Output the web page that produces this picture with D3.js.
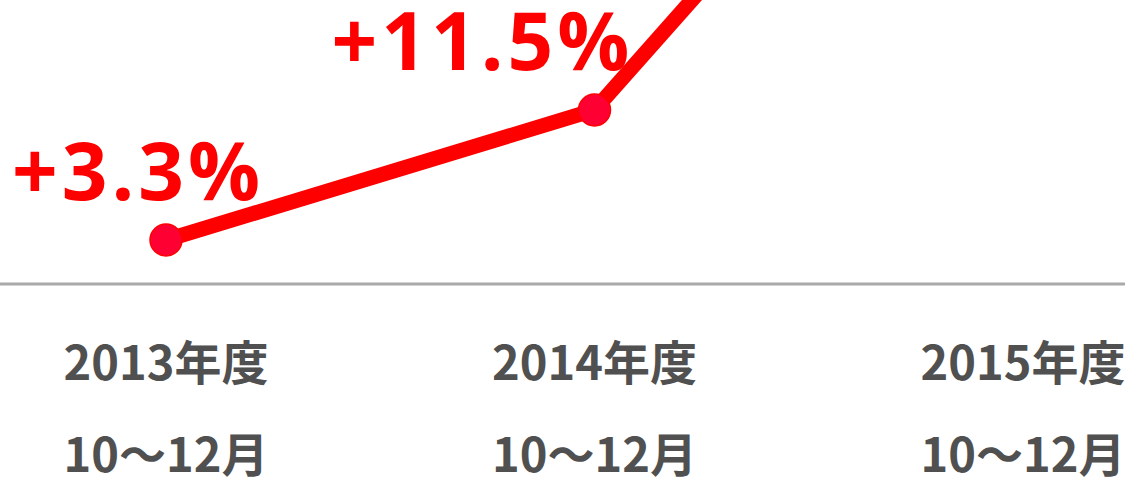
<!DOCTYPE html>
<html><head><meta charset="utf-8">
<script src="https://cdn.jsdelivr.net/npm/d3@7"></script>
<style>html,body{margin:0;padding:0;background:#fff;overflow:hidden}</style>
</head><body>
<svg id="c" width="1125" height="477"></svg>
<script>
const years = ["2013年度", "2014年度", "2015年度"];
const months = ["10〜12月", "10〜12月", "10〜12月"];
const values = [3.3, 11.5, 42];
const valueLabels = ["+3.3%", "+11.5%", "+42.0%"];

const svg = d3.select("#c");
const x = d3.scalePoint().domain(d3.range(years.length)).range([166, 1023]);
const y = d3.scaleLinear().domain([0, 40]).range([292.3, -341.8]);

// baseline
svg.append("line").attr("x1", 0).attr("x2", 1125).attr("y1", 284).attr("y2", 284)
  .attr("stroke", "#aaaaaa").attr("stroke-width", 3);

// category labels
const g = svg.append("g").attr("font-family", "'Noto Sans CJK JP', sans-serif")
  .attr("font-weight", "bold").attr("font-size", 47).attr("fill", "#505050")
  .attr("text-anchor", "middle");
g.selectAll("text.yr").data(years).join("text").attr("class", "yr")
  .attr("x", (d, i) => x(i)).attr("y", 380).text(d => d);
g.selectAll("text.mo").data(months).join("text").attr("class", "mo")
  .attr("x", (d, i) => x(i)).attr("y", 472).text(d => d);

// line
const line = d3.line().x((d, i) => x(i)).y(d => y(d));
svg.append("path").datum(values).attr("d", line).attr("fill", "none")
  .attr("stroke", "#ff0000").attr("stroke-width", 15).attr("stroke-linejoin", "miter");

svg.selectAll("circle").data(values).join("circle")
  .attr("cx", (d, i) => x(i)).attr("cy", d => y(d)).attr("r", 16)
  .attr("fill", "#ff0033").attr("stroke", "#ff0000").attr("stroke-width", 1.5);

// value labels
const dx = [-28, -112, -112];
svg.selectAll("text.val").data(values).join("text").attr("class", "val")
  .attr("x", (d, i) => x(i) + dx[i]).attr("y", d => y(d) - 40)
  .attr("text-anchor", "middle").attr("font-family", "'Open Sans', sans-serif")
  .attr("font-weight", "bold").attr("font-size", 80).attr("letter-spacing", 4)
  .attr("fill", "#ff0000")
  .text((d, i) => valueLabels[i]);
</script>
</body></html>
